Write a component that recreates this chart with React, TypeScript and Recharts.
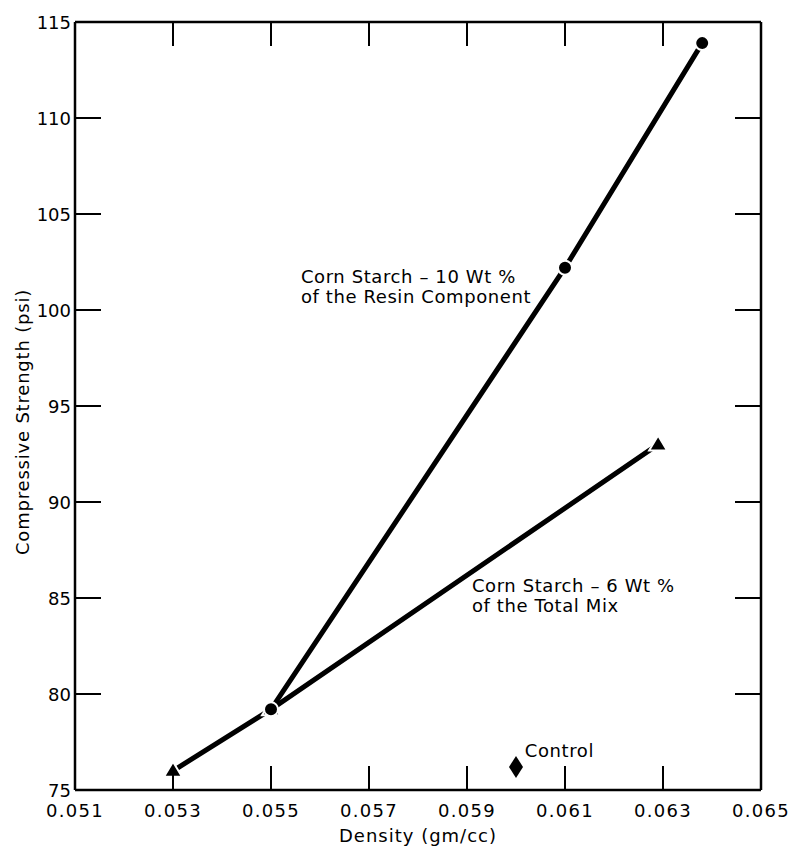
import * as React from "react";
import {
  ScatterChart,
  Scatter,
  XAxis,
  YAxis,
  ReferenceDot,
} from "recharts";

// density (gm/cc) vs compressive strength (psi)
const resinDensity = [0.055, 0.061, 0.0638];
const resinStrength = [79.2, 102.2, 113.9];

const mixDensity = [0.053, 0.055, 0.0629];
const mixStrength = [76.0, 79.2, 93.0];

const controlDensity = [0.06];
const controlStrength = [76.2];

const xTicks = [0.051, 0.053, 0.055, 0.057, 0.059, 0.061, 0.063, 0.065];
const yTicks = [75, 80, 85, 90, 95, 100, 105, 110, 115];

const resinLabel = ["Corn Starch \u2013 10 Wt %", "of the Resin Component"];
const mixLabel = ["Corn Starch \u2013 6 Wt %", "of the Total Mix"];
const controlLabel = ["Control"];

const toPoints = (xs: number[], ys: number[]) => xs.map((x, i) => ({ x, y: ys[i] }));

const resinData = toPoints(resinDensity, resinStrength);
const mixData = toPoints(mixDensity, mixStrength);
const controlData = toPoints(controlDensity, controlStrength);

const FONT = "'DejaVu Sans', sans-serif";
const INK = "#000";

// chart frame (body margin removed below)
const W = 792;
const H = 847;
const M = { top: 21, right: 30, left: 25, bottom: 7 };
const PLOT_TOP = M.top + 1;
const PLOT_RIGHT = W - M.right - 1;

const BottomTick = ({ x, y, payload }: any) => (
  <g>
    <line x1={x} y1={y} x2={x} y2={y - 24} stroke={INK} strokeWidth={2} />
    <line x1={x} y1={PLOT_TOP} x2={x} y2={PLOT_TOP + 24} stroke={INK} strokeWidth={2} />
    <text x={x} y={y + 27} textAnchor="middle" fontFamily={FONT} fontSize={18} letterSpacing={1.3} fill={INK}>
      {payload.value.toFixed(3)}
    </text>
  </g>
);

const LeftTick = ({ x, y, payload }: any) => (
  <g>
    <line x1={x} y1={y} x2={x + 26} y2={y} stroke={INK} strokeWidth={2} />
    <line x1={PLOT_RIGHT} y1={y} x2={PLOT_RIGHT - 26} y2={y} stroke={INK} strokeWidth={2} />
    <text x={x - 4} y={y} textAnchor="end" dominantBaseline="central" fontFamily={FONT} fontSize={18} fill={INK}>
      {payload.value}
    </text>
  </g>
);

const Dot = ({ cx, cy }: any) => (
  <circle cx={cx} cy={cy} r={7} fill={INK} stroke="#fff" strokeWidth={2} />
);

const Triangle = ({ cx, cy }: any) => (
  <path
    d={`M${cx},${cy - 9} L${cx + 9},${cy + 6} L${cx - 9},${cy + 6} Z`}
    fill={INK}
    stroke="#fff"
    strokeWidth={2}
  />
);

const Diamond = ({ cx, cy }: any) => (
  <path d={`M${cx},${cy - 11} L${cx + 7},${cy} L${cx},${cy + 11} L${cx - 7},${cy} Z`} fill={INK} />
);

const noteLabel = (lines: string[]) => ({ viewBox }: any) => (
  <text x={viewBox.x} y={viewBox.y} fontFamily={FONT} fontSize={18} letterSpacing={0.6} fill={INK}>
    {lines.map((t, i) => (
      <tspan key={i} x={viewBox.x} dy={i === 0 ? 0 : 20}>
        {t}
      </tspan>
    ))}
  </text>
);

const YTitle = ({ viewBox }: any) => {
  const x = viewBox.x - 3;
  const y = viewBox.y + viewBox.height / 2 + 16;
  return (
    <text
      x={x}
      y={y}
      transform={`rotate(-90, ${x}, ${y})`}
      textAnchor="middle"
      dominantBaseline="central"
      fontFamily={FONT}
      fontSize={18}
      letterSpacing={0.8}
      fill={INK}
    >
      Compressive Strength (psi)
    </text>
  );
};

const XTitle = ({ viewBox }: any) => (
  <text
    x={viewBox.x + viewBox.width / 2}
    y={viewBox.y + 52}
    textAnchor="middle"
    fontFamily={FONT}
    fontSize={18}
    letterSpacing={1}
    fill={INK}
  >
    Density (gm/cc)
  </text>
);

export default function App() {
  return (
    <div style={{ width: W, height: H }}>
      <style>{"body{margin:0}"}</style>
      <ScatterChart width={W} height={H} margin={M}>
        <XAxis
          dataKey="x"
          type="number"
          domain={[0.051, 0.065]}
          ticks={xTicks}
          height={50}
          axisLine={{ stroke: INK, strokeWidth: 2.5 }}
          tickLine={false}
          tickSize={0}
          tickMargin={0}
          tick={<BottomTick />}
          interval={0}
          label={<XTitle />}
        />
        <XAxis
          xAxisId="top"
          orientation="top"
          type="number"
          domain={[0.051, 0.065]}
          ticks={xTicks}
          height={1}
          axisLine={{ stroke: INK, strokeWidth: 2.5 }}
          tickLine={false}
          tick={false}
        />
        <YAxis
          dataKey="y"
          type="number"
          domain={[75, 115]}
          ticks={yTicks}
          width={50}
          axisLine={{ stroke: INK, strokeWidth: 2.5 }}
          tickLine={false}
          tickSize={0}
          tickMargin={0}
          tick={<LeftTick />}
          interval={0}
          label={<YTitle />}
        />
        <YAxis
          yAxisId="right"
          orientation="right"
          type="number"
          domain={[75, 115]}
          ticks={yTicks}
          width={1}
          axisLine={{ stroke: INK, strokeWidth: 2.5 }}
          tickLine={false}
          tick={false}
        />
        <Scatter
          data={mixData}
          line={{ stroke: INK, strokeWidth: 5 }}
          shape={<Triangle />}
          isAnimationActive={false}
        />
        <Scatter
          data={resinData}
          line={{ stroke: INK, strokeWidth: 5 }}
          shape={<Dot />}
          isAnimationActive={false}
        />
        <Scatter data={controlData} shape={<Diamond />} isAnimationActive={false} />
        <ReferenceDot x={0.05561} y={101.4} r={0} fill="none" stroke="none" label={noteLabel(resinLabel)} />
        <ReferenceDot x={0.0591} y={85.3} r={0} fill="none" stroke="none" label={noteLabel(mixLabel)} />
        <ReferenceDot x={0.06018} y={76.7} r={0} fill="none" stroke="none" label={noteLabel(controlLabel)} />
      </ScatterChart>
    </div>
  );
}
